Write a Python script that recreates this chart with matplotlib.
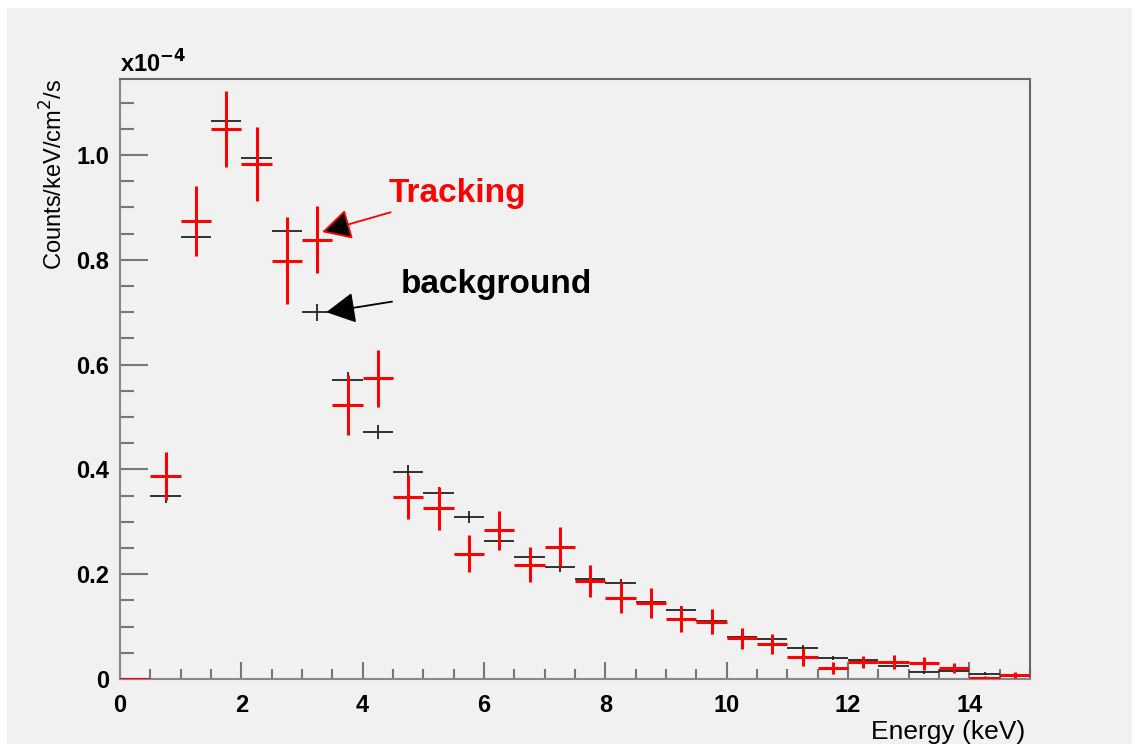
import matplotlib
matplotlib.use("Agg")
import matplotlib.pyplot as plt
import numpy as np
from matplotlib.patches import Rectangle
from matplotlib.ticker import MultipleLocator, FixedFormatter, FixedLocator

plt.rcParams['font.family'] = ['Liberation Sans', 'DejaVu Sans']

# energy bins (keV), 0.5 keV wide
bin_lo = np.arange(0, 15, 0.5)
bin_width = 0.5

# tracking spectrum (x1e-4 counts/keV/cm2/s) and errors
tracking = [0.0, 0.388, 0.874, 1.050, 0.983, 0.798, 0.838, 0.523, 0.574, 0.347,
            0.326, 0.239, 0.284, 0.218, 0.252, 0.187, 0.155, 0.145, 0.115, 0.109,
            0.078, 0.067, 0.042, 0.021, 0.032, 0.032, 0.030, 0.021, 0.002, 0.008]
tracking_err = [0.0, 0.046, 0.067, 0.073, 0.071, 0.083, 0.064, 0.057, 0.054, 0.042,
                0.041, 0.035, 0.037, 0.033, 0.039, 0.031, 0.030, 0.028, 0.025, 0.024,
                0.020, 0.019, 0.017, 0.011, 0.011, 0.013, 0.012, 0.010, 0.004, 0.006]

# background spectrum and errors
background = [0.0, 0.349, 0.844, 1.065, 0.994, 0.855, 0.700, 0.571, 0.471, 0.395,
              0.355, 0.309, 0.263, 0.233, 0.214, 0.190, 0.183, 0.147, 0.132, 0.110,
              0.080, 0.076, 0.059, 0.040, 0.037, 0.025, 0.013, 0.015, 0.010, 0.006]
background_err = [0.0, 0.013, 0.016, 0.019, 0.018, 0.019, 0.016, 0.014, 0.013, 0.013,
                  0.012, 0.011, 0.010, 0.010, 0.009, 0.009, 0.008, 0.008, 0.007, 0.007,
                  0.006, 0.006, 0.005, 0.004, 0.004, 0.004, 0.003, 0.003, 0.003, 0.002]

x_ticks = [0, 2, 4, 6, 8, 10, 12, 14]
y_ticks = [0, 0.2, 0.4, 0.6, 0.8, 1.0]
y_tick_labels = ['0', '0.2', '0.4', '0.6', '0.8', '1.0']

fig = plt.figure(figsize=(11.35, 7.49), dpi=100)
fig.patch.set_facecolor('white')
# grey canvas like the ROOT pad, with a thin white margin
fig.patches.append(Rectangle((7 / 1135, 5 / 749), 1125 / 1135, 736 / 749,
                             transform=fig.transFigure, facecolor='#f1f1f1',
                             edgecolor='none', zorder=-10))

ax = fig.add_axes([120 / 1135, 1 - 679 / 749, 910 / 1135, 600 / 749])
ax.set_facecolor('#f1f1f1')

centers = bin_lo + bin_width / 2

ax.errorbar(centers, background, xerr=bin_width / 2, yerr=background_err,
            fmt='none', ecolor='#222222', elinewidth=1.3, capsize=0, zorder=2)
ax.errorbar(centers, tracking, xerr=bin_width / 2, yerr=tracking_err,
            fmt='none', ecolor='#ff0000', elinewidth=2.2, capsize=0, zorder=3)

ax.set_xlim(0, 15)
ax.set_ylim(0, 1.145)

ax.xaxis.set_major_locator(FixedLocator(x_ticks))
ax.xaxis.set_minor_locator(MultipleLocator(0.5))
ax.yaxis.set_major_locator(FixedLocator(y_ticks))
ax.yaxis.set_major_formatter(FixedFormatter(y_tick_labels))
ax.yaxis.set_minor_locator(MultipleLocator(0.05))

ax.tick_params(axis='both', which='both', direction='in', color='#777777',
               top=False, right=False)
ax.tick_params(axis='y', which='major', length=20, width=1.5, labelsize=17, pad=8)
ax.tick_params(axis='y', which='minor', length=10, width=1.5)
ax.tick_params(axis='x', which='major', length=12, width=1.5, labelsize=17, pad=11)
ax.tick_params(axis='x', which='minor', length=7, width=1.5)
for lab in ax.get_xticklabels() + ax.get_yticklabels():
    lab.set_fontweight('bold')

for side in ['left', 'bottom']:
    ax.spines[side].set_color('#888888')
    ax.spines[side].set_linewidth(1.5)
for side in ['top', 'right']:
    ax.spines[side].set_color('#666666')
    ax.spines[side].set_linewidth(1.5)

ax.text(0, 1.002, r'x10$^{\mathbf{-4}}$', transform=ax.transAxes, fontsize=17,
        fontweight='bold', ha='left', va='bottom')

ax.set_xlabel('Energy (keV)', fontsize=19, ha='right', x=0.995, labelpad=2)
ax.set_ylabel('Counts/keV/cm$^{2}$/s', fontsize=17, ha='right', y=1.0, labelpad=6)

ax.annotate('Tracking', xy=(3.33, 0.853), xytext=(4.42, 0.927),
            fontsize=24, fontweight='bold', color='#ff0000', va='center', ha='left',
            arrowprops=dict(arrowstyle='-|>,head_length=0.75,head_width=0.4',
                            edgecolor='#ff0000', facecolor='black', lw=1.3,
                            shrinkA=2, shrinkB=0))
ax.annotate('background', xy=(3.4, 0.70), xytext=(4.62, 0.752),
            fontsize=24, fontweight='bold', color='black', va='center', ha='left',
            arrowprops=dict(arrowstyle='-|>,head_length=0.75,head_width=0.4',
                            color='black', lw=1.3, shrinkA=4, shrinkB=0))

fig.savefig('out.png', dpi=100, facecolor=fig.get_facecolor())
